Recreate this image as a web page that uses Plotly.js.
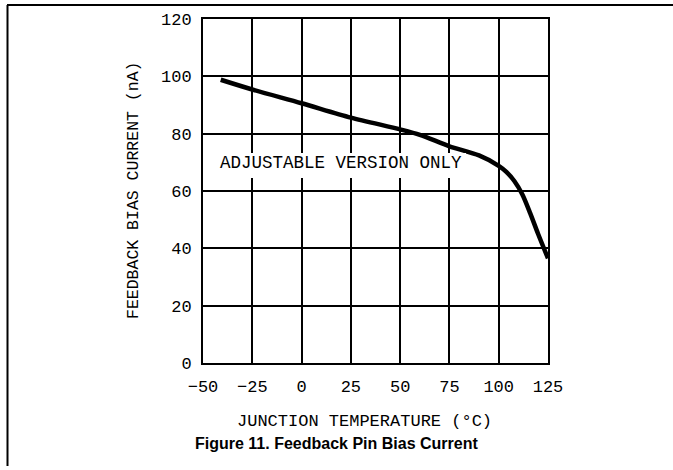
<!DOCTYPE html>
<html>
<head>
<meta charset="utf-8">
<script src="https://cdn.plot.ly/plotly-3.0.1.min.js"></script>
<style>html,body{margin:0;padding:0;background:#fff;}#chart{width:673px;height:470px;}</style>
</head>
<body>
<div id="chart"></div>
<script>
const temperatureC = [-41, -25, 0, 25, 50, 60, 75, 90, 100, 104, 108, 112, 116, 120, 125];
const biasCurrentNA = [98.8, 95.4, 90.6, 85.6, 81.5, 79.6, 75.6, 72.4, 68.8, 66.6, 63.4, 58.8, 52.2, 45.0, 36.5];
const xTicks = [-50, -25, 0, 25, 50, 75, 100, 125];
const yTicks = [0, 20, 40, 60, 80, 100, 120];
const xTitle = "JUNCTION TEMPERATURE (°C)";
const yTitle = "FEEDBACK BIAS CURRENT (nA)";
const noteText = "ADJUSTABLE VERSION ONLY";
const captionText = "Figure 11. Feedback Pin Bias Current";

const L = 203, R = 548, T = 19, B = 363, W = 673, H = 470;
const px = x => (x - L) / (R - L);
const py = y => (B - y) / (B - T);
const cadFont = "Liberation Mono, DejaVu Sans Mono, monospace";

const trace = {
  x: temperatureC, y: biasCurrentNA, type: "scatter", mode: "lines",
  line: {color: "#000", width: 4.5, shape: "spline", smoothing: 0.8},
  hoverinfo: "skip"
};

const layout = {
  width: W, height: H,
  margin: {l: L, r: W - R, t: T, b: H - B},
  paper_bgcolor: "#fff", plot_bgcolor: "#fff",
  showlegend: false,
  xaxis: {
    range: [-50, 125], tickvals: xTicks, ticktext: xTicks.map(v => v < 0 ? "\u2212" + Math.abs(v) : String(v)),
    showgrid: true, gridcolor: "#000", gridwidth: 2,
    showline: true, linecolor: "#000", linewidth: 2, mirror: true,
    zeroline: false, ticks: "", ticklabelstandoff: 7,
    tickfont: {family: cadFont, size: 17, color: "#000"}, fixedrange: true
  },
  yaxis: {
    range: [0, 120], tickvals: yTicks,
    showgrid: true, gridcolor: "#000", gridwidth: 2,
    showline: true, linecolor: "#000", linewidth: 2, mirror: true,
    zeroline: false, ticks: "", ticklabelstandoff: 6,
    tickfont: {family: cadFont, size: 17, color: "#000"}, fixedrange: true
  },
  annotations: [
    {x: 20, y: 69.7, xref: "x", yref: "y", text: noteText, showarrow: false,
     font: {family: cadFont, size: 17.5, color: "#000"}},
    {x: px(364), y: py(421), xref: "paper", yref: "paper", text: xTitle, showarrow: false,
     font: {family: cadFont, size: 17, color: "#000"}, xanchor: "center", yanchor: "middle"},
    {x: px(133), y: py(191), xref: "paper", yref: "paper", text: yTitle, showarrow: false, textangle: -90,
     font: {family: cadFont, size: 16.5, color: "#000"}, xanchor: "center", yanchor: "middle"},
    {x: px(336), y: py(443), xref: "paper", yref: "paper", text: "<b>" + captionText + "</b>", showarrow: false,
     font: {family: "Liberation Sans, Arial, sans-serif", size: 16, color: "#000"}, xanchor: "center", yanchor: "middle"}
  ],
  shapes: [
    {type: "rect", xref: "paper", yref: "paper", layer: "above",
     x0: px(214), x1: px(466), y0: py(178), y1: py(153), fillcolor: "#fff", line: {width: 0}},
    {type: "line", xref: "paper", yref: "paper", x0: px(7), x1: px(673), y0: py(5), y1: py(5), line: {color: "#000", width: 2}},
    {type: "line", xref: "paper", yref: "paper", x0: px(7.5), x1: px(7.5), y0: py(5), y1: py(466), line: {color: "#000", width: 2}}
  ]
};

Plotly.newPlot("chart", [trace], layout, {displayModeBar: false, staticPlot: true});
</script>
</body>
</html>
